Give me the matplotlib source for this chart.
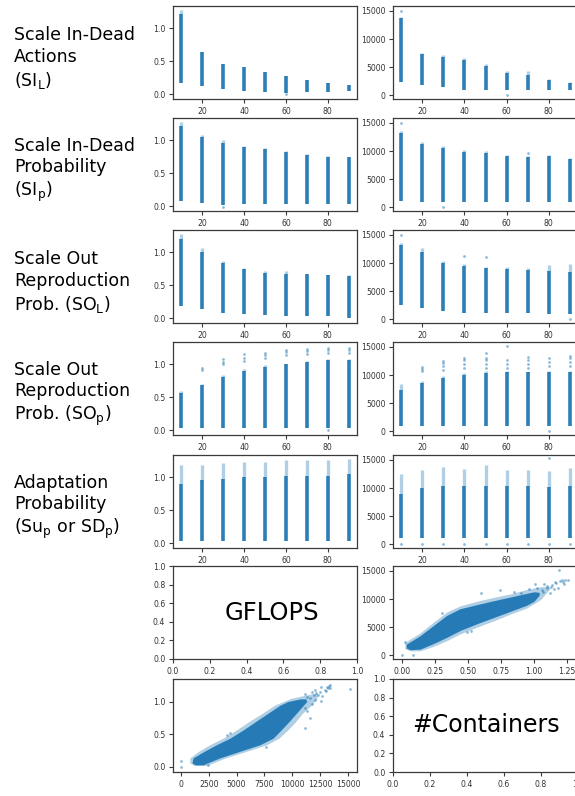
import matplotlib
matplotlib.use('Agg')
import matplotlib.pyplot as plt

plt.rcParams['font.family'] = ['DejaVu Sans']
plt.rcParams['mathtext.fontset'] = 'dejavusans'

C0 = '#1f77b4'

# ---------------- data ----------------
xs = [10, 20, 30, 40, 50, 60, 70, 80, 90]

row_labels = [
    "Scale In-Dead\nActions\n(S$\\mathrm{I}_\\mathrm{L}$)",
    "Scale In-Dead\nProbability\n(S$\\mathrm{I}_\\mathrm{p}$)",
    "Scale Out\nReproduction\nProb. (S$\\mathrm{O}_\\mathrm{L}$)",
    "Scale Out\nReproduction\nProb. (S$\\mathrm{O}_\\mathrm{p}$)",
    "Adaptation\nProbability\n(S$\\mathrm{u}_\\mathrm{p}$ or S$\\mathrm{D}_\\mathrm{p}$)",
]

# GFLOPS strips (min, dense top, max) per parameter value
sil_g_lo = [0.17, 0.125, 0.075, 0.045, 0.035, 0.02, 0.03, 0.035, 0.045]
sil_g_core = [1.22, 0.64, 0.455, 0.41, 0.335, 0.28, 0.215, 0.165, 0.14]
sil_g_max = [1.27, 0.645, 0.46, 0.42, 0.345, 0.285, 0.22, 0.17, 0.145]
sil_g_out = [(60, 0.0)]

sip_g_lo = [0.075, 0.055, 0.025, 0.04, 0.04, 0.04, 0.04, 0.04, 0.04]
sip_g_core = [1.22, 1.05, 0.96, 0.90, 0.86, 0.82, 0.78, 0.75, 0.74]
sip_g_max = [1.275, 1.075, 1.0, 0.915, 0.875, 0.84, 0.79, 0.765, 0.75]
sip_g_out = [(30, -0.01)]

sol_g_lo = [0.19, 0.135, 0.085, 0.06, 0.05, 0.035, 0.035, 0.035, 0.0]
sol_g_core = [1.2, 1.0, 0.83, 0.74, 0.69, 0.675, 0.665, 0.65, 0.64]
sol_g_max = [1.275, 1.065, 0.865, 0.76, 0.71, 0.71, 0.675, 0.66, 0.65]
sol_g_out = []

sop_g_lo = [0.035, 0.035, 0.035, 0.035, 0.035, 0.035, 0.035, 0.035, 0.035]
sop_g_core = [0.56, 0.685, 0.8, 0.9, 0.96, 1.0, 1.04, 1.06, 1.06]
sop_g_max = [0.6, 0.7, 0.83, 0.92, 0.98, 1.0, 1.05, 1.075, 1.075]
sop_g_out = [(20, 0.915), (20, 0.94), (30, 1.01), (30, 1.04), (30, 1.075),
             (40, 1.05), (40, 1.1), (40, 1.15), (50, 1.1), (50, 1.14), (50, 1.175),
             (60, 1.14), (60, 1.18), (60, 1.21), (70, 1.15), (70, 1.2), (70, 1.235),
             (80, 1.175), (80, 1.22), (80, 1.25), (80, 0.0),
             (90, 1.175), (90, 1.22), (90, 1.25)]

ad_g_lo = [0.04, 0.04, 0.04, 0.04, 0.04, 0.04, 0.04, 0.04, 0.04]
ad_g_core = [0.9, 0.95, 0.97, 1.0, 1.0, 1.02, 1.02, 1.02, 1.05]
ad_g_max = [1.18, 1.18, 1.22, 1.23, 1.23, 1.26, 1.26, 1.26, 1.28]
ad_g_out = []

# #Containers strips
sil_c_lo = [2300, 1890, 1480, 1000, 1000, 1000, 1000, 1000, 1000]
sil_c_core = [13700, 7300, 6800, 6200, 5200, 4000, 3660, 2700, 2200]
sil_c_max = [14000, 7500, 7200, 6600, 5550, 4370, 4370, 2890, 2300]
sil_c_out = [(10, 15000), (60, 0)]

sip_c_lo = [1190, 950, 950, 1000, 1000, 1000, 1000, 1000, 1000]
sip_c_core = [13200, 11200, 10600, 9900, 9700, 9100, 8900, 9100, 8600]
sip_c_max = [13500, 11560, 10970, 10140, 9960, 9370, 9070, 9370, 8780]
sip_c_out = [(10, 15000), (30, 0), (70, 9670)]

sol_c_lo = [2470, 2060, 1470, 1180, 1180, 1100, 1050, 1000, 1000]
sol_c_core = [13200, 12000, 10100, 9500, 9100, 8900, 8700, 8600, 8500]
sol_c_max = [13520, 12640, 10290, 9820, 9290, 9290, 9110, 9700, 9820]
sol_c_out = [(10, 15000), (40, 11170), (50, 11050), (90, 0)]

sop_c_lo = [890, 890, 890, 890, 890, 890, 890, 890, 890]
sop_c_core = [7300, 8600, 9500, 10000, 10400, 10500, 10500, 10600, 10600]
sop_c_max = [8420, 8900, 9780, 10380, 10670, 10670, 10380, 10670, 10670]
sop_c_out = [(20, 10670), (20, 11000), (20, 11390),
             (30, 10900), (30, 11600), (30, 12100), (30, 12570),
             (40, 11300), (40, 12000), (40, 12600), (40, 13050),
             (50, 11270), (50, 12000), (50, 12700), (50, 13050), (50, 13940),
             (60, 11300), (60, 12000), (60, 12700), (60, 15120),
             (70, 11300), (70, 12000), (70, 12700), (70, 13160),
             (80, 11600), (80, 12300), (80, 13000), (80, 0),
             (90, 11600), (90, 12300), (90, 13000), (90, 13460)]

ad_c_lo = [1070, 1070, 1070, 1070, 1070, 1070, 1070, 1070, 1070]
ad_c_core = [9000, 10000, 10300, 10300, 10400, 10300, 10400, 10200, 10300]
ad_c_max = [12500, 13220, 13700, 13340, 14110, 13220, 13220, 13000, 13520]
ad_c_out = [(80, 15300), (10, 0), (20, 0), (30, 0), (40, 0), (50, 0),
            (60, 0), (70, 0), (80, 0), (90, 0)]

# GFLOPS vs #Containers: dense band, fuzzy halo and sparse points
cloud_g = [0.03, 0.06, 0.136, 0.237, 0.338, 0.439, 0.565, 0.692, 0.818, 0.944, 1.0, 1.04]
cloud_c_lo = [1300, 1000, 1100, 2100, 3200, 4410, 5600, 6700, 7800, 8900, 9600, 10700]
cloud_c_hi = [2000, 2400, 3500, 5300, 7100, 8280, 9000, 9700, 10350, 11000, 11300, 11200]
halo_g = [0.02, 0.06, 0.136, 0.237, 0.338, 0.439, 0.565, 0.692, 0.818, 0.944, 1.05, 1.12]
halo_c_lo = [1200, 800, 800, 1600, 2600, 3800, 5000, 6100, 7300, 8400, 9900, 11800]
halo_c_hi = [2300, 2900, 4000, 5900, 7700, 8800, 9600, 10300, 10900, 11700, 12200, 12300]
sparse_g = [1.02, 1.10, 1.14, 1.17, 1.20, 1.24, 1.26, 1.19, 1.12, 1.06, 0.96, 0.90,
            0.60, 0.74, 0.49, 0.0, 0.085, 0.022, 1.08, 1.15, 1.22, 0.85, 0.52, 0.30,
            1.18, 1.23, 1.10, 1.01, 1.13, 1.16, 1.21, 1.07]
sparse_c = [12020, 12320, 12500, 12900, 13200, 13330, 13340, 15130, 11100, 11550, 11730, 11130,
            11140, 11560, 4170, 0, 0, 2440, 12700, 11800, 13100, 11300, 4400, 7600,
            12000, 12600, 11900, 12600, 12100, 13000, 13400, 11300]

g_lim = (-0.07, 1.335)
c_lim = (-650, 15880)
x_lim = (6, 94)

strips = [
    (sil_g_lo, sil_g_core, sil_g_max, sil_g_out, sil_c_lo, sil_c_core, sil_c_max, sil_c_out),
    (sip_g_lo, sip_g_core, sip_g_max, sip_g_out, sip_c_lo, sip_c_core, sip_c_max, sip_c_out),
    (sol_g_lo, sol_g_core, sol_g_max, sol_g_out, sol_c_lo, sol_c_core, sol_c_max, sol_c_out),
    (sop_g_lo, sop_g_core, sop_g_max, sop_g_out, sop_c_lo, sop_c_core, sop_c_max, sop_c_out),
    (ad_g_lo, ad_g_core, ad_g_max, ad_g_out, ad_c_lo, ad_c_core, ad_c_max, ad_c_out),
]

# ---------------- layout ----------------
W, H = 575, 796
fig = plt.figure(figsize=(W / 100, H / 100), dpi=100)
col_left = [173, 393]
col_w = [184, 185]
row_top = [6, 118, 230, 342, 455, 566, 679]
row_h = 93


def make_ax(r, c):
    ax = fig.add_axes([col_left[c] / W, 1 - (row_top[r] + row_h) / H,
                       col_w[c] / W, row_h / H])
    for s in ax.spines.values():
        s.set_color('#3a3a3a')
        s.set_linewidth(0.9)
    ax.tick_params(labelsize=5.6, length=3, width=0.8, color='#3a3a3a',
                   labelcolor='#333333', pad=2.5)
    return ax


def draw_strips(ax, lo, core, mx, out):
    ax.vlines(xs, core, mx, colors=C0, lw=2.4, alpha=0.35)
    ax.vlines(xs, lo, core, colors=C0, lw=2.6, alpha=0.95)
    if out:
        ox = [p[0] for p in out]
        oy = [p[1] for p in out]
        ax.scatter(ox, oy, s=4, color=C0, alpha=0.5, linewidths=0)


for r, (gl, gc, gm, go, cl, cc, cm, co) in enumerate(strips):
    ax = make_ax(r, 0)
    draw_strips(ax, gl, gc, gm, go)
    ax.set_xlim(*x_lim)
    ax.set_ylim(*g_lim)
    ax.set_xticks([20, 40, 60, 80])
    ax.set_yticks([0.0, 0.5, 1.0])
    ax = make_ax(r, 1)
    draw_strips(ax, cl, cc, cm, co)
    ax.set_xlim(*x_lim)
    ax.set_ylim(*c_lim)
    ax.set_xticks([20, 40, 60, 80])
    ax.set_yticks([0, 5000, 10000, 15000])
    yc = 1 - (row_top[r] + row_h / 2 + 6) / H
    fig.text(14 / W, yc, row_labels[r], fontsize=12.5, ha='left', va='center',
             linespacing=1.25, color='black')

# diagonal: GFLOPS
ax = make_ax(5, 0)
ax.set_xlim(0, 1)
ax.set_ylim(0, 1)
ax.set_xticks([0, 0.2, 0.4, 0.6, 0.8, 1.0])
ax.set_yticks([0, 0.2, 0.4, 0.6, 0.8, 1.0])
ax.text(0.54, 0.5, 'GFLOPS', fontsize=17.5, ha='center', va='center', transform=ax.transAxes)

# GFLOPS vs #Containers
ax = make_ax(5, 1)
ax.fill_between(halo_g, halo_c_lo, halo_c_hi, color=C0, lw=0, alpha=0.35)
ax.fill_between(cloud_g, cloud_c_lo, cloud_c_hi, color=C0, lw=0, alpha=0.95)
ax.scatter(sparse_g, sparse_c, s=4, color=C0, alpha=0.5, linewidths=0)
ax.set_xlim(*g_lim)
ax.set_ylim(*c_lim)
ax.set_xticks([0, 0.25, 0.5, 0.75, 1.0, 1.25])
ax.set_yticks([0, 5000, 10000, 15000])

# #Containers vs GFLOPS
ax = make_ax(6, 0)
ax.fill_betweenx(halo_g, halo_c_lo, halo_c_hi, color=C0, lw=0, alpha=0.35)
ax.fill_betweenx(cloud_g, cloud_c_lo, cloud_c_hi, color=C0, lw=0, alpha=0.95)
ax.scatter(sparse_c, sparse_g, s=4, color=C0, alpha=0.5, linewidths=0)
ax.set_xlim(-700, 15800)
ax.set_ylim(-0.08, 1.345)
ax.set_xticks([0, 2500, 5000, 7500, 10000, 12500, 15000])
ax.set_yticks([0.0, 0.5, 1.0])

# diagonal: #Containers
ax = make_ax(6, 1)
ax.set_xlim(0, 1)
ax.set_ylim(0, 1)
ax.set_xticks([0, 0.2, 0.4, 0.6, 0.8, 1.0])
ax.set_yticks([0, 0.2, 0.4, 0.6, 0.8, 1.0])
ax.text(0.5, 0.5, '#Containers', fontsize=17, ha='center', va='center', transform=ax.transAxes)

fig.savefig('out.png', dpi=100)
